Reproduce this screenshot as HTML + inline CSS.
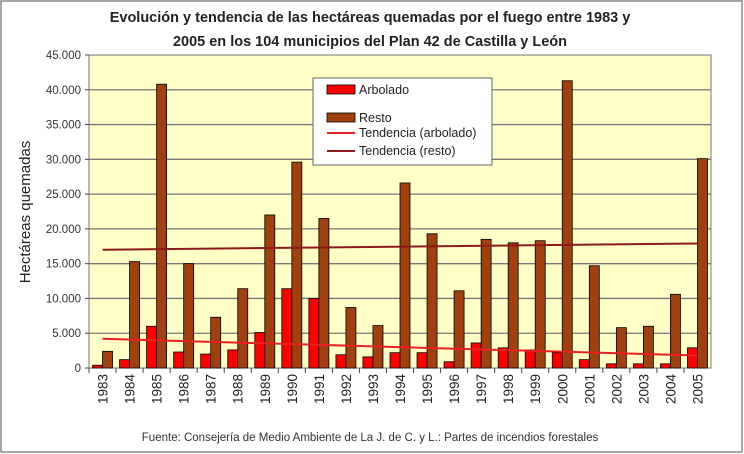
<!DOCTYPE html>
<html><head><meta charset="utf-8"><style>
body{margin:0;background:#fff}
svg{display:block;font-family:"Liberation Sans",sans-serif}
</style></head><body>
<svg id="chart" width="744" height="454">
<rect x="1" y="1" width="741" height="451" fill="#fff" stroke="#888" stroke-width="1.5"/>
<text x="370" y="22" text-anchor="middle" font-size="14.5" font-weight="bold" fill="#222">Evolución y tendencia de las hectáreas quemadas por el fuego entre 1983 y</text>
<text x="370" y="46" text-anchor="middle" font-size="14.5" font-weight="bold" fill="#222">2005 en los 104 municipios del Plan 42 de Castilla y León</text>
<rect x="89" y="55" width="622" height="313" fill="#ffffc8" stroke="#777"/>
<g id="grid"></g><g id="bars"></g><g id="trends"></g><g id="axes"></g>
<text transform="translate(30,212) rotate(-90)" text-anchor="middle" font-size="15" fill="#222">Hectáreas  quemadas</text>
<text x="370" y="441" text-anchor="middle" font-size="11.5" fill="#333">Fuente: Consejería de Medio Ambiente de La J. de C. y L.: Partes de incendios forestales</text>
<g>
<rect x="313" y="78" width="179" height="87" fill="#fff" stroke="#666"/>
<rect x="327" y="85" width="28" height="9" fill="#f00" stroke="#000" stroke-width="0.8"/>
<text x="359" y="94" font-size="12.5" fill="#222">Arbolado</text>
<rect x="327" y="113" width="28" height="9" fill="#a0400f" stroke="#000" stroke-width="0.8"/>
<text x="359" y="122" font-size="12.5" fill="#222">Resto</text>
<line x1="327" y1="133" x2="355" y2="133" stroke="#e82020" stroke-width="2"/>
<text x="359" y="137" font-size="12.5" fill="#222">Tendencia (arbolado)</text>
<line x1="327" y1="151" x2="355" y2="151" stroke="#8b1a1a" stroke-width="2"/>
<text x="359" y="155" font-size="12.5" fill="#222">Tendencia (resto)</text>
</g>
</svg>
<script>
const years=["1983","1984","1985","1986","1987","1988","1989","1990","1991","1992","1993","1994","1995","1996","1997","1998","1999","2000","2001","2002","2003","2004","2005"];
const arbolado=[400,1200,6000,2300,2000,2600,5100,11400,10000,1900,1600,2200,2200,900,3600,2900,2600,2200,1200,600,600,600,2900];
const resto=[2400,15300,40800,15000,7300,11400,22000,29600,21500,8700,6100,26600,19300,11100,18500,18000,18300,41300,14700,5800,6000,10600,30100];
const trendArbolado=[4200,1800];
const trendResto=[17000,17900];
const yTicks=[0,5000,10000,15000,20000,25000,30000,35000,40000,45000];
const NS="http://www.w3.org/2000/svg";
const X0=89,X1=711,Y0=368,Y1=55,YMAX=45000;
const band=(X1-X0)/years.length;
const y=v=>Y0-(v/YMAX)*(Y0-Y1);
const xc=i=>X0+band*(i+0.5);
function mk(tag,attrs,parent){const e=document.createElementNS(NS,tag);for(const k in attrs)e.setAttribute(k,attrs[k]);document.getElementById(parent).appendChild(e);return e;}
yTicks.forEach(t=>{
 if(t>0&&t<YMAX){const g=mk('line',{x1:X0,x2:X1,y1:y(t),y2:y(t),stroke:'#777','stroke-width':1.3},'grid');
 
 }
 const tk=mk('line',{x1:X0-4,x2:X0,y1:y(t),y2:y(t),stroke:'#444'},'axes');
 
 
 const lb=mk('text',{x:X0-8,y:y(t)+4,'text-anchor':'end','font-size':11.5,fill:'#333'},'axes');
 lb.textContent=t.toLocaleString('de-DE');
 
 
});
const bw=band*0.37;
years.forEach((yr,i)=>{
 const c=xc(i);
 const a=mk('rect',{x:c-bw,y:y(arbolado[i]),width:bw,height:Y0-y(arbolado[i]),fill:'#ff0000',stroke:'#000','stroke-width':0.8},'bars');
 
 
 const r=mk('rect',{x:c,y:y(resto[i]),width:bw,height:Y0-y(resto[i]),fill:'#a0400f',stroke:'#000','stroke-width':0.8},'bars');
 
 
 const tk=mk('line',{x1:X0+band*i,x2:X0+band*i,y1:Y0,y2:Y0+5,stroke:'#444'},'axes');
 
 
 const lb=mk('text',{transform:`translate(${c+5},${Y0+6}) rotate(-90)`,'text-anchor':'end','font-size':13.5,fill:'#222'},'axes');
 lb.textContent=yr;
 
 
});
const n=years.length-1;
const ta=mk('line',{x1:xc(0),x2:xc(n),y1:y(trendArbolado[0]),y2:y(trendArbolado[1]),stroke:'#e82020','stroke-width':2},'trends');


const tr=mk('line',{x1:xc(0),x2:xc(n),y1:y(trendResto[0]),y2:y(trendResto[1]),stroke:'#8b1a1a','stroke-width':2},'trends');


</script>
</body></html>
